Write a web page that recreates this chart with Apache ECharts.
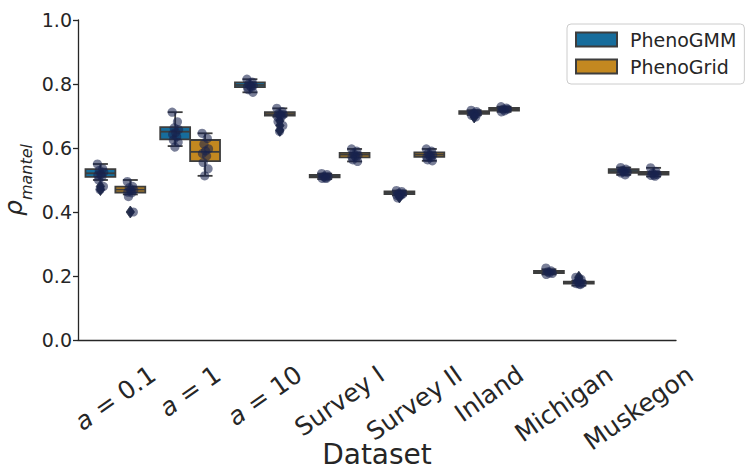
<!DOCTYPE html>
<html><head><meta charset="utf-8">
<script src="https://cdn.jsdelivr.net/npm/echarts@6/dist/echarts.min.js"></script>
<style>html,body{margin:0;padding:0;background:#fff}#c{width:748px;height:470px}</style>
</head><body><div id="c"></div>
<script>
// ---------------- data ----------------
const categories = ['a = 0.1', 'a = 1', 'a = 10', 'Survey I', 'Survey II', 'Inland', 'Michigan', 'Muskegon'];
const seriesNames = ['PhenoGMM', 'PhenoGrid'];
const yTicks = [0.0, 0.2, 0.4, 0.6, 0.8, 1.0];
// box statistics: [lower whisker, Q1, median, Q3, upper whisker]
const gmmBoxes = [
  [0.500, 0.510, 0.521, 0.534, 0.550],
  [0.606, 0.627, 0.651, 0.665, 0.712],
  [0.774, 0.790, 0.797, 0.805, 0.815],
  [0.503, 0.508, 0.512, 0.516, 0.520],
  [0.452, 0.456, 0.460, 0.464, 0.467],
  [0.703, 0.707, 0.711, 0.715, 0.718],
  [0.205, 0.209, 0.2125, 0.216, 0.221],
  [0.516, 0.522, 0.528, 0.534, 0.539]
];
const gridBoxes = [
  [0.455, 0.461, 0.470, 0.479, 0.500],
  [0.513, 0.559, 0.588, 0.625, 0.646],
  [0.698, 0.701, 0.706, 0.712, 0.724],
  [0.558, 0.571, 0.579, 0.585, 0.597],
  [0.560, 0.572, 0.579, 0.586, 0.597],
  [0.713, 0.717, 0.721, 0.725, 0.729],
  [0.170, 0.176, 0.179, 0.182, 0.185],
  [0.511, 0.517, 0.521, 0.525, 0.538]
];
const gmmOutliers = [[0.48, 0.47], [], [], [], [0.447], [0.697], [], []];
const gridOutliers = [[0.40], [], [0.685, 0.670, 0.655], [], [], [], [0.190, 0.196], []];
const gmmPoints = [
  [0.550, 0.535, 0.530, 0.525, 0.520, 0.518, 0.510, 0.500, 0.480, 0.470],
  [0.712, 0.682, 0.666, 0.660, 0.651, 0.645, 0.635, 0.627, 0.618, 0.606],
  [0.815, 0.806, 0.802, 0.798, 0.796, 0.793, 0.790, 0.785, 0.774],
  [0.520, 0.517, 0.514, 0.512, 0.510, 0.508, 0.505],
  [0.467, 0.464, 0.461, 0.459, 0.457, 0.455, 0.452, 0.447],
  [0.718, 0.714, 0.712, 0.710, 0.708, 0.705, 0.697],
  [0.225, 0.216, 0.213, 0.211, 0.209, 0.205],
  [0.539, 0.534, 0.530, 0.528, 0.525, 0.522, 0.516]
];
const gridPoints = [
  [0.495, 0.480, 0.476, 0.472, 0.468, 0.465, 0.460, 0.448, 0.400],
  [0.646, 0.630, 0.612, 0.600, 0.593, 0.583, 0.575, 0.555, 0.535, 0.513],
  [0.724, 0.714, 0.710, 0.707, 0.705, 0.702, 0.698, 0.685, 0.670, 0.655],
  [0.597, 0.590, 0.585, 0.580, 0.578, 0.575, 0.570, 0.565, 0.558],
  [0.597, 0.590, 0.585, 0.580, 0.578, 0.574, 0.570, 0.565, 0.560],
  [0.729, 0.725, 0.723, 0.721, 0.719, 0.716],
  [0.196, 0.190, 0.184, 0.181, 0.179, 0.177, 0.173],
  [0.538, 0.527, 0.523, 0.521, 0.519, 0.516, 0.512]
];

// ---------------- style ----------------
const FONT = '"DejaVu Sans", sans-serif';
const INK = '#262626';
const EDGE = '#3d3d3d';
const COLORS = ['#176d9c', '#c38820'];
const SIDE = [-1, 1];
const JITTER = [-0.04, 0.03, -0.015, 0.045, 0.005, -0.035, 0.02, -0.025, 0.04, -0.005];

// x tick labels: rotated, bounding box centred under the tick (matplotlib style)
const LABEL_FS = 25, ROT = 35 * Math.PI / 180, TOP_GAP = 22;
const mctx = document.createElement('canvas').getContext('2d');
mctx.font = LABEL_FS + 'px "DejaVu Sans"';
const halfH = categories.map(c => (mctx.measureText(c).width * Math.sin(ROT) + 0.95 * LABEL_FS * Math.cos(ROT)) / 2);
const fmtLabel = v => v.startsWith('a = ') ? '{i|a}{n| = ' + v.slice(4) + '}' : '{n|' + v + '}';

function boxRender(s) {
  return function (params, api) {
    const ci = api.value(0);
    const band = api.size([1, 0])[0];
    const cx = api.coord([ci, 0])[0] + SIDE[s] * 0.2 * band;
    const w = 0.4 * band;
    const Y = v => api.coord([ci, v])[1];
    const lo = Y(api.value(1)), q1 = Y(api.value(2)), md = Y(api.value(3)), q3 = Y(api.value(4)), hi = Y(api.value(5));
    const ls = { stroke: EDGE, lineWidth: 1.8 };
    return {
      type: 'group', children: [
        { type: 'line', shape: { x1: cx, y1: q1, x2: cx, y2: lo }, style: ls },
        { type: 'line', shape: { x1: cx, y1: q3, x2: cx, y2: hi }, style: ls },
        { type: 'line', shape: { x1: cx - w / 4, y1: lo, x2: cx + w / 4, y2: lo }, style: ls },
        { type: 'line', shape: { x1: cx - w / 4, y1: hi, x2: cx + w / 4, y2: hi }, style: ls },
        { type: 'rect', shape: { x: cx - w / 2, y: q3, width: w, height: Math.max(q1 - q3, 0.5) }, style: { fill: COLORS[s], stroke: EDGE, lineWidth: 1.8 } },
        { type: 'line', shape: { x1: cx - w / 2, y1: md, x2: cx + w / 2, y2: md }, style: ls }
      ]
    };
  };
}
function outlierRender(s) {
  return function (params, api) {
    const ci = api.value(0);
    const band = api.size([1, 0])[0];
    const p = api.coord([ci, api.value(1)]);
    const cx = p[0] + SIDE[s] * 0.2 * band, cy = p[1];
    return { type: 'polygon', shape: { points: [[cx, cy - 6], [cx + 4.2, cy], [cx, cy + 6], [cx - 4.2, cy]] }, style: { fill: '#27304a', stroke: '#27304a', lineWidth: 0.8 } };
  };
}
function dotRender(s) {
  return function (params, api) {
    const ci = api.value(0);
    const band = api.size([1, 0])[0];
    const p = api.coord([ci, api.value(1)]);
    const j = JITTER[api.value(2) % JITTER.length];
    return { type: 'circle', shape: { cx: p[0] + SIDE[s] * 0.2 * band + j * band, cy: p[1], r: 4.6 }, style: { fill: 'rgba(24,34,78,0.58)' } };
  };
}
function labelRender(params, api) {
  const ci = api.value(0);
  const p = api.coord([ci, yTicks[0]]);
  return {
    type: 'text', x: p[0], y: p[1] + TOP_GAP + halfH[ci], rotation: ROT,
    style: {
      text: fmtLabel(categories[ci]), align: 'center', verticalAlign: 'middle',
      fontSize: LABEL_FS, fontFamily: FONT, fill: INK,
      rich: {
        i: { fontStyle: 'italic', fontSize: LABEL_FS, fontFamily: FONT, fill: INK },
        n: { fontSize: LABEL_FS, fontFamily: FONT, fill: INK }
      }
    }
  };
}

const boxesBy = [gmmBoxes, gridBoxes];
const outBy = [gmmOutliers, gridOutliers];
const ptsBy = [gmmPoints, gridPoints];
const series = [];
seriesNames.forEach((name, s) => {
  series.push({
    name: name, type: 'custom', renderItem: boxRender(s), z: 2,
    itemStyle: { color: COLORS[s], borderColor: EDGE, borderWidth: 1.5 },
    encode: { x: 0, y: [1, 2, 3, 4, 5] },
    data: boxesBy[s].map((b, i) => [i].concat(b))
  });
});
seriesNames.forEach((name, s) => {
  const od = [];
  outBy[s].forEach((arr, i) => arr.forEach(v => od.push([i, v])));
  series.push({ name: name + ' outliers', type: 'custom', renderItem: outlierRender(s), z: 3, encode: { x: 0, y: 1 }, data: od });
});
seriesNames.forEach((name, s) => {
  const pd = [];
  ptsBy[s].forEach((arr, i) => arr.forEach((v, j) => pd.push([i, v, j])));
  series.push({ name: name + ' points', type: 'custom', renderItem: dotRender(s), z: 4, encode: { x: 0, y: 1 }, data: pd });
});
series.push({ name: 'tick labels', type: 'custom', renderItem: labelRender, clip: false, z: 5, silent: true,
  encode: { x: 0 }, data: categories.map((c, i) => [i]) });

const chart = echarts.init(document.getElementById('c'), null, { renderer: 'svg' });
chart.setOption({
  animation: false,
  backgroundColor: '#ffffff',
  textStyle: { fontFamily: FONT },
  grid: { left: 78, right: 72, top: 20, bottom: 130, containLabel: false, outerBoundsMode: 'none' },
  legend: {
    data: seriesNames.map(n => ({ name: n, icon: 'rect' })),
    orient: 'vertical', left: 567, top: 24,
    itemWidth: 41, itemHeight: 14, itemGap: 8,
    padding: [6, 8, 8, 8],
    borderColor: '#cccccc', borderWidth: 1, borderRadius: 4, backgroundColor: '#ffffff',
    textStyle: { fontSize: 19, color: INK, fontFamily: FONT, padding: [0, 0, 0, 8] },
    selectedMode: false
  },
  xAxis: {
    type: 'category', data: categories,
    name: 'Dataset', nameLocation: 'middle', nameGap: 100, nameMoveOverlap: false,
    nameTextStyle: { fontSize: 28, color: INK, fontFamily: FONT },
    axisLine: { lineStyle: { color: INK, width: 1.3 } },
    axisTick: { alignWithLabel: true, length: 5, lineStyle: { color: INK, width: 1.3 } },
    axisLabel: { show: false },
    splitLine: { show: false }
  },
  yAxis: {
    type: 'value', min: yTicks[0], max: yTicks[yTicks.length - 1], interval: yTicks[1] - yTicks[0],
    name: '{rho|ρ}{sub|mantel}', nameLocation: 'middle', nameRotate: 90, nameGap: 44, nameMoveOverlap: false,
    nameTextStyle: {
      color: INK,
      rich: {
        rho: { fontSize: 25, fontStyle: 'italic', fontFamily: FONT, color: INK, verticalAlign: 'bottom', padding: [0, 0, 8, 0] },
        sub: { fontSize: 16, fontStyle: 'italic', fontFamily: FONT, color: INK, verticalAlign: 'bottom' }
      }
    },
    axisLine: { show: true, lineStyle: { color: INK, width: 1.3 } },
    axisTick: { show: true, length: 5, lineStyle: { color: INK, width: 1.3 } },
    axisLabel: { fontSize: 19, color: INK, fontFamily: FONT, margin: 6, formatter: v => v.toFixed(1) },
    splitLine: { show: false }
  },
  series: series
});
</script></body></html>
